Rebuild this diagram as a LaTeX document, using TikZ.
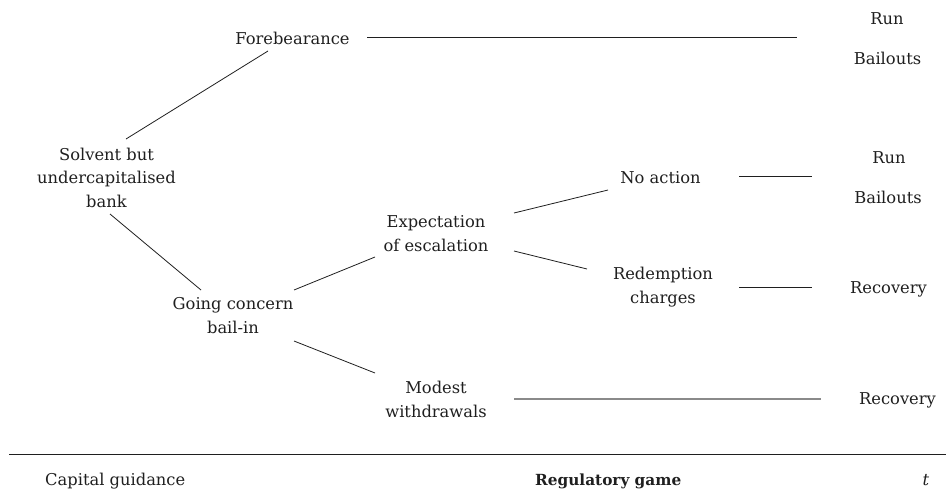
\documentclass[tikz,border=0pt]{standalone}
\usepackage{fontspec}
\setmainfont{DejaVu Serif}
\usetikzlibrary{calc}
\definecolor{ink}{HTML}{1F1F1F}
\definecolor{lightink}{HTML}{8A8A8A}
\tikzset{
  lbl/.style={inner sep=0pt, anchor=base, align=center, text=ink,
    font=\fontsize{16.3}{23.5}\selectfont},
  conn/.style={draw=ink, line width=0.8pt},
  connlight/.style={draw=lightink, line width=1.1pt},
}
\begin{document}
\begin{tikzpicture}[x=1pt, y=-1pt]
\useasboundingbox (0,0) rectangle (946,496);
% nodes (base anchor = baseline of the last line)
\node[lbl] (fore)   at (292.5,44)  {Forebearance};
\node[lbl] (solv)   at (106.5,207) {Solvent but\\undercapitalised\\bank};
\node[lbl] (going)  at (233,333)   {Going concern\\bail-in};
\node[lbl] (expe)   at (436,251)   {Expectation\\of escalation};
\node[lbl] (modest) at (436,417)   {Modest\\withdrawals};
\node[lbl] (noact)  at (660.5,183) {No action};
\node[lbl] (redem)  at (663,303)   {Redemption\\charges};
\node[lbl] (run1)   at (887,24)    {Run};
\node[lbl] (bail1)  at (887.5,64)  {Bailouts};
\node[lbl] (run2)   at (889,163)   {Run};
\node[lbl] (bail2)  at (888,203)   {Bailouts};
\node[lbl] (rec1)   at (888.5,293) {Recovery};
\node[lbl] (rec2)   at (897.5,404) {Recovery};
\node[lbl, anchor=base west] (capg) at (45,485) {Capital guidance};
\node[lbl, anchor=base west, font=\fontsize{15.3}{23.5}\selectfont\bfseries] (regg) at (535,485) {Regulatory game};
\node[lbl] (tt) at (926,485) {\itshape t};
% connectors
\draw[conn] ($(fore.base)+(-24.5,7)$) -- ($(solv.base)+(19.5,-68)$);
\draw[conn] ($(fore.base)+(74.5,-7)$) -- ($(bail1.base)+(-90.5,-27)$);
\draw[conn] ($(solv.base)+(3.5,7)$) -- ($(going.base)+(-32,-43)$);
\draw[conn] ($(going.base)+(61,-43)$) -- ($(expe.base)+(-61,6)$);
\draw[conn] ($(going.base)+(61,8)$) -- ($(modest.base)+(-61,-44)$);
\draw[conn] ($(expe.base)+(78,-38)$) -- ($(noact.base)+(-52.5,7)$);
\draw[conn] ($(expe.base)+(78,0)$) -- ($(redem.base)+(-76,-34)$);
\draw[conn] ($(noact.base)+(78.5,-7)$) -- ($(bail2.base)+(-76,-27)$);
\draw[conn] ($(redem.base)+(76,-16)$) -- ($(rec1.base)+(-76.5,-6)$);
\draw[connlight] ($(modest.base)+(78,-18)$) -- ($(rec2.base)+(-76.5,-5)$);
% time axis rule
\draw[conn, line width=1pt] (9,454) -- (946,454);
\end{tikzpicture}
\end{document}
